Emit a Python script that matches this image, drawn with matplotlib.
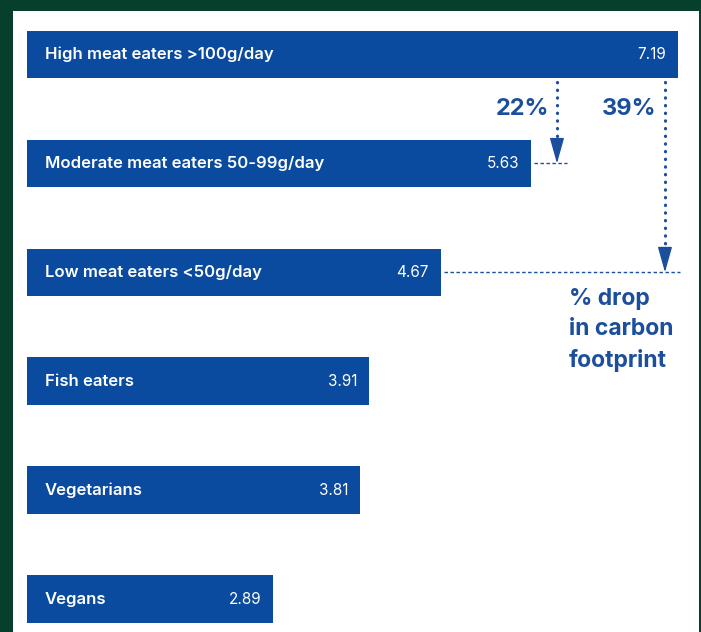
import matplotlib
matplotlib.use("Agg")
import matplotlib.pyplot as plt
from matplotlib.patches import Rectangle

categories = ["High meat eaters >100g/day", "Moderate meat eaters 50-99g/day",
              "Low meat eaters <50g/day", "Fish eaters", "Vegetarians", "Vegans"]
values = [7.19, 5.63, 4.67, 3.91, 3.81, 2.89]
value_labels = ["7.19", "5.63", "4.67", "3.91", "3.81", "2.89"]
drop_labels = ["22%", "39%"]
drop_targets = [1, 2]  # index of bar the arrow points to

BLUE = "#0a4a9f"
TXT_BLUE = "#1b4f9e"
GREEN = "#063f2b"
FONT = ["Inter", "DejaVu Sans"]

W, H = 701, 632
fig = plt.figure(figsize=(W / 100, H / 100), dpi=100, facecolor=GREEN)
# white panel
fig.patches.append(Rectangle((13 / W, 0), (699 - 13) / W, (H - 11) / H,
                             transform=fig.transFigure, facecolor="white",
                             edgecolor="none", zorder=-5))

ax = fig.add_axes([27 / W, 0, (699 - 27) / W, 1])
ax.set_zorder(2)
ax.set_facecolor("none")
ax.set_xlim(0.268, 7.417)
ax.set_ylim(5.303, -0.5005)
ax.axis("off")

ypos = list(range(len(categories)))
ax.barh(ypos, values, height=0.436, color=BLUE, zorder=2)

for y, cat, v, vl in zip(ypos, categories, values, value_labels):
    ax.annotate(cat, xy=(0, y), xycoords=("axes fraction", "data"),
                xytext=(13, 0), textcoords="offset points",
                ha="left", va="center", color="white", fontsize=12,
                fontweight="semibold", family=FONT, zorder=3)
    ax.annotate(vl, xy=(v, y), xytext=(-8.5, 0), textcoords="offset points",
                ha="right", va="center", color="white", fontsize=11,
                family=FONT, zorder=3)

# arrows
arrow_x = [5.906, 7.055]
end_x = [6.013, 7.215]
text_x = [5.82, 6.96]
top = 0 + 0.436 / 2 + 0.016
for ax_x, ex, tx, lab, t in zip(arrow_x, end_x, text_x, drop_labels, drop_targets):
    ax.plot([ax_x, ax_x], [top + 0.02, t - 0.2], color=TXT_BLUE, lw=2.3,
            linestyle=(0, (0.1, 2.3)), dash_capstyle="round", zorder=3)
    ax.annotate("", xy=(ax_x, t), xytext=(ax_x, t - 0.2),
                arrowprops=dict(arrowstyle="-|>,head_length=1.6,head_width=0.45",
                                color=TXT_BLUE, lw=1, shrinkA=0, shrinkB=0),
                zorder=3)
    ax.plot([values[t] + 0.03, ex], [t, t], color=TXT_BLUE, lw=1,
            linestyle=(0, (2.5, 1.8)), zorder=2)
    ax.text(tx, 0.5, lab, ha="right", va="center", color=TXT_BLUE,
            fontsize=17, fontweight="bold", family=FONT)

ax.text(6.034, 2.53, "% drop\nin carbon\nfootprint", ha="left", va="center",
        color=TXT_BLUE, fontsize=16.5, fontweight="bold", family=FONT,
        linespacing=1.5)

fig.savefig("out.png", dpi=100, facecolor=GREEN)
